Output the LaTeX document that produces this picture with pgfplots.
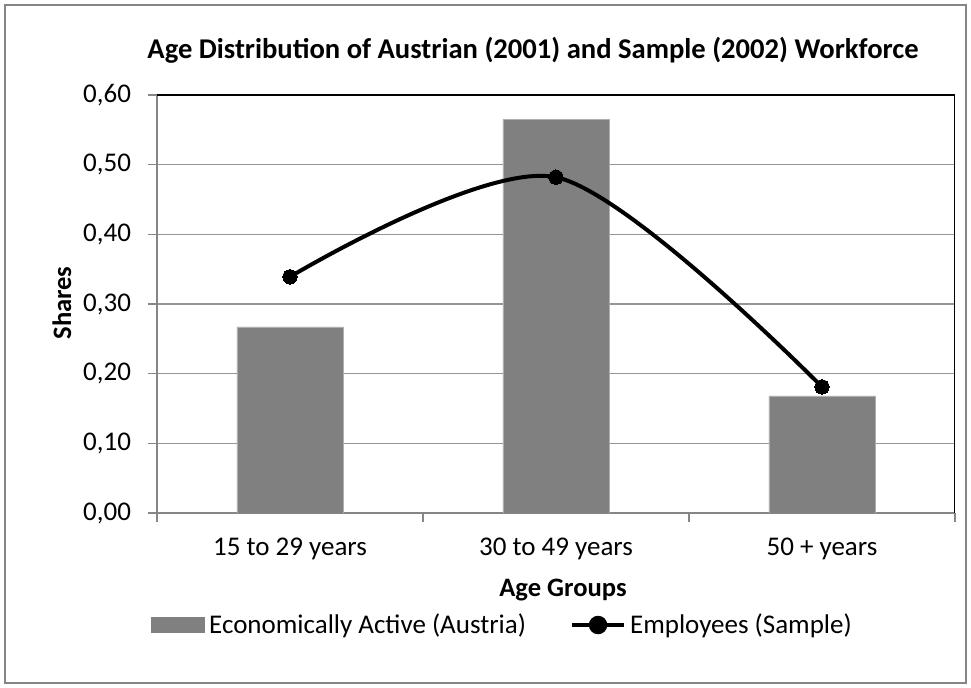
\documentclass[border=0pt]{standalone}
\usepackage{fontspec}
\setmainfont{Carlito}
\usepackage{pgfplots}
\pgfplotsset{compat=1.18}
\definecolor{bargray}{RGB}{128,128,128}
\definecolor{baredge}{RGB}{175,175,175}
\definecolor{axgray}{RGB}{134,134,134}
\definecolor{gridgray}{RGB}{150,150,150}
\definecolor{frame}{RGB}{134,134,134}
\begin{document}
\begin{tikzpicture}
\path[use as bounding box] (-78.5pt,-87.5pt) rectangle (407pt,256.5pt);
\draw[frame, line width=0.75pt] (-76pt,-85pt) rectangle (404.5pt,254pt);
\begin{axis}[
  at={(0pt,0pt)}, anchor=south west,
  scale only axis, width=399pt, height=209pt,
  xmin=-0.5, xmax=2.5, ymin=0, ymax=0.6,
  axis lines*=left,
  axis line style={draw=axgray, line width=0.75pt, -},
  tick align=outside,
  major tick length=4.5pt,
  tick style={draw=axgray, line width=0.75pt},
  xtick={-0.5,0.5,1.5,2.5}, xticklabels={},
  extra x ticks={0,1,2},
  extra x tick labels={15 to 29 years, 30 to 49 years, 50 + years},
  extra x tick style={major tick length=0pt},
  ytick={0,0.1,0.2,0.3,0.4,0.5,0.6},
  ymajorgrids,
  grid style={draw=gridgray, line width=0.75pt},
  /pgf/number format/fixed, /pgf/number format/fixed zerofill,
  /pgf/number format/precision=2, /pgf/number format/use comma,
  /pgf/number format/assume math mode=true,
  ticklabel style={font=\fontsize{13.5}{16}\selectfont},
  yticklabel style={xshift=-5pt},
  xticklabel style={yshift=-9pt},
  legend style={at={(-0.015,-0.268)}, anchor=west, draw=none, fill=none,
    font=\fontsize{13.5}{16}\selectfont, legend columns=2,
    /tikz/every even column/.append style={column sep=20pt}},
  legend cell align=left,
]
\addplot[ybar, bar width=53pt, fill=bargray, draw=baredge, line width=0.4pt,
  legend image code/.code={\fill[bargray] (0pt,-3.75pt) rectangle (26.5pt,3.75pt);}]
  coordinates {(0,0.267) (1,0.565) (2,0.168)};
\addlegendentry{Economically Active (Austria)}
\addplot[smooth, tension=0.5, black, line width=2pt, mark=*, mark size=3.6pt,
  mark options={solid, fill=black, line width=0pt},
  legend image code/.code={\draw[black, line width=2pt] (0pt,0pt) -- (26pt,0pt);
     \fill[black] (13pt,0pt) circle (3.6pt);}]
  coordinates {(0,0.339) (1,0.482) (2,0.181)};
\addlegendentry{Employees (Sample)}
\draw[black, line width=1pt] (rel axis cs:0,1) -- (rel axis cs:1,1) -- (rel axis cs:1,0);
\end{axis}
\node[font=\bfseries\fontsize{14.3}{17}\selectfont] at (188pt,231.5pt) {Age Distribution of Austrian (2001) and Sample (2002) Workforce};
\node[font=\bfseries\fontsize{13.3}{16}\selectfont] at (203pt,-38.5pt) {Age Groups};
\node[font=\bfseries\fontsize{13.3}{16}\selectfont, rotate=90] at (-47.5pt,105pt) {Shares};
\end{tikzpicture}
\end{document}
